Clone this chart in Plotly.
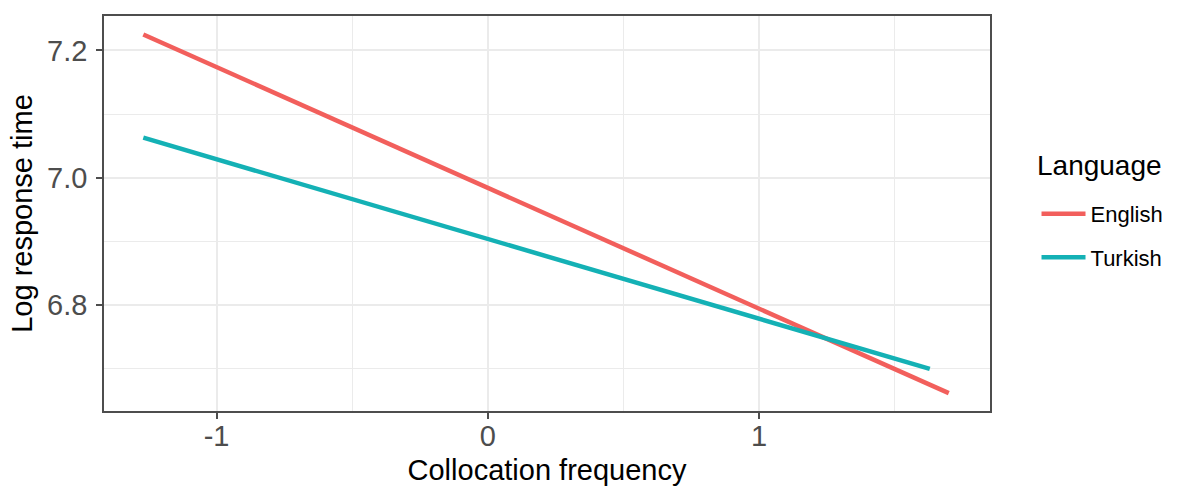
import plotly.graph_objects as go

# Fitted regression lines: log RT against collocation frequency (z-scored)
languages = ["English", "Turkish"]
english_freq = [-1.27, 1.70]
english_logrt = [7.225, 6.662]
turkish_freq = [-1.27, 1.63]
turkish_logrt = [7.063, 6.700]
x_ticks = [-1, 0, 1]
y_ticks = [6.8, 7.0, 7.2]

colors = {"English": "#F25F5C", "Turkish": "#14B1B5"}
series = {
    "English": (english_freq, english_logrt),
    "Turkish": (turkish_freq, turkish_logrt),
}

FONT = "Liberation Sans, Arial, Helvetica, sans-serif"
GRID = "#EBEBEB"
BORDER = "#4D4D4D"

fig = go.Figure()
for lang in languages:
    xs, ys = series[lang]
    fig.add_trace(go.Scatter(
        x=xs, y=ys, mode="lines", name=lang, legendgroup=lang,
        line=dict(color=colors[lang], width=4.5),
    ))

axis_common = dict(
    showgrid=True, gridcolor=GRID, gridwidth=1.6,
    zeroline=False, automargin=False,
    showline=True, linecolor=BORDER, linewidth=1.6, mirror=True,
    ticks="outside", ticklen=6, tickwidth=1.6, tickcolor=BORDER,
    tickfont=dict(family=FONT, size=29, color="#4D4D4D"),
    title_font=dict(family=FONT, size=29, color="#000000"),
)

fig.update_xaxes(
    range=[-1.415, 1.852], tickvals=x_ticks, ticktext=["-1", "0", "1"],
    minor=dict(dtick=0.5, showgrid=True, gridcolor=GRID, gridwidth=1.2, ticks=""),
    title_text="Collocation frequency", title_standoff=9,
    ticklabelstandoff=-8,
    **axis_common,
)
fig.update_yaxes(
    range=[6.634, 7.254], tickvals=y_ticks, tickformat=".1f",
    minor=dict(dtick=0.1, showgrid=True, gridcolor=GRID, gridwidth=1.2, ticks=""),
    title_text="Log response time", title_standoff=6,
    ticklabelstandoff=3,
    **axis_common,
)

fig.add_annotation(
    text="Language", xref="paper", yref="paper",
    x=1.051, xanchor="left", y=(411 - 165) / 395, yanchor="middle",
    showarrow=False, font=dict(family=FONT, size=28, color="#000000"),
)

fig.update_layout(
    width=1181, height=488,
    margin=dict(l=104, r=191, t=16, b=77),
    plot_bgcolor="white", paper_bgcolor="white",
    font=dict(family=FONT),
    legend=dict(
        x=1.0525, xanchor="left", y=0.552, yanchor="top",
        font=dict(family=FONT, size=22, color="#000000"),
        traceorder="grouped", tracegroupgap=12, itemwidth=44,
        bgcolor="rgba(0,0,0,0)",
    ),
)

fig.write_html("out.html")
